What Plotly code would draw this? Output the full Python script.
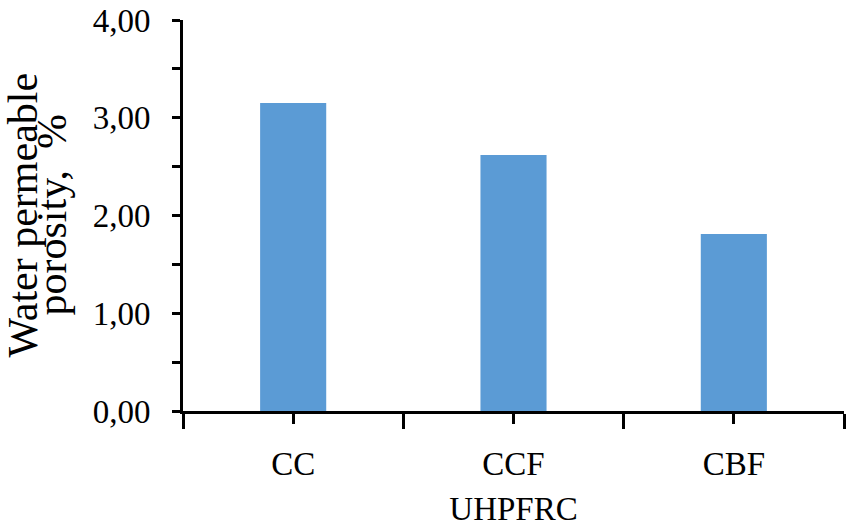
import plotly.graph_objects as go

categories = ["CC", "CCF", "CBF"]
porosity = [3.15, 2.62, 1.81]
y_ticks = [0, 1, 2, 3, 4]
x_title = "UHPFRC"
y_title_lines = ["Water permeable", "porosity,  %"]

FONT = "Liberation Serif, Times New Roman, serif"
xpos = list(range(len(categories)))

fig = go.Figure(
    go.Bar(
        x=xpos,
        y=porosity,
        width=0.30,
        marker=dict(color="#5B9BD5", line=dict(width=0)),
        showlegend=False,
    )
)

fig.update_layout(
    width=850,
    height=531,
    margin=dict(l=183, r=6, t=20, b=120),
    paper_bgcolor="white",
    plot_bgcolor="white",
    separators=", ",
    font=dict(family=FONT, color="black", size=33),
)

fig.update_xaxes(
    range=[-0.5, len(categories) - 0.5],
    tickmode="array",
    tickvals=xpos,
    ticktext=categories,
    ticks="outside",
    ticklen=10,
    tickwidth=3,
    tickcolor="black",
    ticklabelstandoff=11,
    minor=dict(tick0=-0.5, dtick=1, ticks="outside", ticklen=15, tickwidth=3, tickcolor="black"),
    showline=True,
    linewidth=3,
    linecolor="black",
    showgrid=False,
    zeroline=False,
    automargin=False,
    tickfont=dict(family=FONT, size=33, color="black"),
    title=dict(text=x_title, font=dict(family=FONT, size=33, color="black"), standoff=17),
)

fig.update_yaxes(
    range=[0, 4],
    tickmode="array",
    tickvals=y_ticks,
    tickformat=".2f",
    ticks="outside",
    ticklen=8,
    tickwidth=3,
    tickcolor="black",
    ticklabelstandoff=15,
    ticklabeloverflow="allow",
    minor=dict(dtick=0.5, ticks="outside", ticklen=8, tickwidth=3, tickcolor="black"),
    showline=True,
    linewidth=3,
    linecolor="black",
    showgrid=False,
    zeroline=False,
    automargin=False,
    tickfont=dict(family=FONT, size=33, color="black"),
)

for line, shift in zip(y_title_lines, [-161, -132]):
    fig.add_annotation(
        text=line,
        xref="paper", yref="paper",
        x=0, y=0.5,
        xanchor="center", yanchor="middle",
        xshift=shift,
        textangle=-90,
        showarrow=False,
        font=dict(family=FONT, size=42, color="black"),
    )

fig.write_html(
    "out.html",
    config={"displayModeBar": False},
    post_script="document.body.style.margin='0';",
)
